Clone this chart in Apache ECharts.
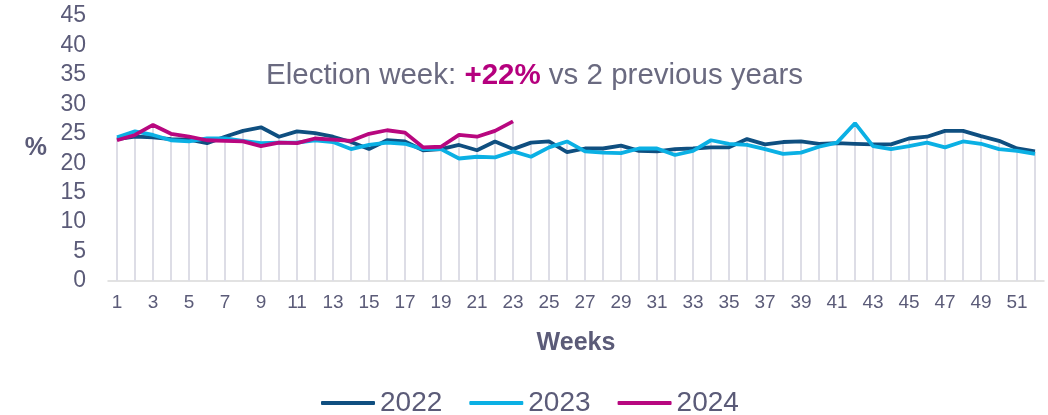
<!DOCTYPE html>
<html lang="en">
<head>
	<meta charset="UTF-8">
	<title>Weekly share</title>
	<style>
		*{ margin: 0; padding: 0; }
		body{ background: #fff; }
		.box{ width: 1048px; height: 415px; }
	</style>
	<script src="https://cdn.jsdelivr.net/npm/echarts@6/dist/echarts.min.js"></script>
</head>
<body>
	<div class="box"></div>
	<script>
		var weeks = [1,2,3,4,5,6,7,8,9,10,11,12,13,14,15,16,17,18,19,20,21,22,23,24,25,26,
			27,28,29,30,31,32,33,34,35,36,37,38,39,40,41,42,43,44,45,46,47,48,49,50,51,52];
		var y2022 = [24.1,24.5,24.4,24.1,24.0,23.4,24.5,25.5,26.1,24.5,25.4,25.1,24.5,23.6,22.4,23.9,23.7,22.2,22.4,23.1,22.2,23.7,22.4,23.5,23.7,21.9,
			22.5,22.5,23.0,22.1,22.0,22.4,22.5,22.7,22.7,24.1,23.2,23.6,23.7,23.3,23.4,23.3,23.2,23.2,24.2,24.5,25.5,25.5,24.6,23.8,22.5,22.0];
		var y2023 = [24.4,25.4,24.8,23.9,23.7,24.2,24.2,23.8,23.4,23.5,23.5,23.9,23.6,22.4,23.1,23.5,23.3,22.4,22.4,20.8,21.1,21.0,22.0,21.1,22.7,23.7,
			22.0,21.8,21.7,22.5,22.5,21.4,22.1,23.9,23.3,23.1,22.4,21.6,21.8,22.8,23.5,26.8,22.9,22.4,22.9,23.5,22.7,23.7,23.3,22.4,22.1,21.6];
		var y2024 = [23.9,24.8,26.5,25.0,24.5,23.9,23.8,23.7,22.9,23.5,23.4,24.2,24.0,23.8,25.0,25.6,25.2,22.7,22.8,24.8,24.5,25.5,27.1];

		var txt = '#5b5b78';
		var font = 'Arial, "Liberation Sans", sans-serif';

		// drop lines reach the highest series of each week
		var dropTop = weeks.map(function (w, i) {
			var v = [y2022[i], y2023[i]];
			if (y2024[i] != null) v.push(y2024[i]);
			return Math.max.apply(null, v);
		});

		var chart = echarts.init(document.querySelector('.box'));
		var option = {
			animation: false,
			textStyle: { fontFamily: font },
			title: {
				left: 261,
				top: 56,
				text: '{a|Election week: }{b|+22%}{a| vs 2 previous years}',
				textStyle: {
					fontWeight: 'normal',
					rich: {
						a: { fontSize: 29.5, color: '#6a6a80', fontWeight: 'normal', fontFamily: font },
						b: { fontSize: 29.5, color: '#b5007e', fontWeight: 'bold', fontFamily: font }
					}
				}
			},
			legend: {
				data: ['2022', '2023', '2024'],
				top: 384,
				left: 316,
				icon: 'roundRect',
				itemWidth: 54,
				itemHeight: 4,
				itemGap: 27,
				textStyle: { fontSize: 28, color: txt, padding: [0, 0, 0, 0] }
			},
			grid: { left: 108, right: 4, top: 16, bottom: 134 },
			xAxis: {
				type: 'category',
				data: weeks,
				boundaryGap: true,
				name: 'Weeks',
				nameLocation: 'middle',
				nameGap: 50,
				nameTextStyle: { fontSize: 25, fontWeight: 'bold', color: txt },
				axisLine: { lineStyle: { color: '#d9d9d9', width: 1.5 } },
				axisTick: { show: false },
				axisLabel: { interval: 1, fontSize: 19, color: txt, margin: 12 }
			},
			yAxis: {
				type: 'value',
				min: 0,
				max: 45,
				interval: 5,
				name: '%',
				nameLocation: 'middle',
				nameRotate: 0,
				nameGap: 61,
				nameTextStyle: { fontSize: 25, fontWeight: 'bold', color: txt },
				splitLine: { show: false },
				axisLine: { show: false },
				axisTick: { show: false },
				axisLabel: { fontSize: 23, color: txt, margin: 22 }
			},
			series: [
				{
					name: 'drop',
					type: 'bar',
					data: dropTop,
					barWidth: 2,
					silent: true,
					itemStyle: { color: '#dddde6' },
					z: 1
				},
				{
					name: '2022',
					type: 'line',
					data: y2022,
					symbol: 'none',
					lineStyle: { width: 3.8, color: '#0f4f80' },
					itemStyle: { color: '#0f4f80' },
					z: 3
				},
				{
					name: '2023',
					type: 'line',
					data: y2023,
					symbol: 'none',
					lineStyle: { width: 3.8, color: '#0bb0e4' },
					itemStyle: { color: '#0bb0e4' },
					z: 4
				},
				{
					name: '2024',
					type: 'line',
					data: y2024,
					symbol: 'none',
					lineStyle: { width: 3.8, color: '#b8077f' },
					itemStyle: { color: '#b8077f' },
					z: 5
				}
			]
		};
		chart.setOption(option);
	</script>
</body>
</html>
